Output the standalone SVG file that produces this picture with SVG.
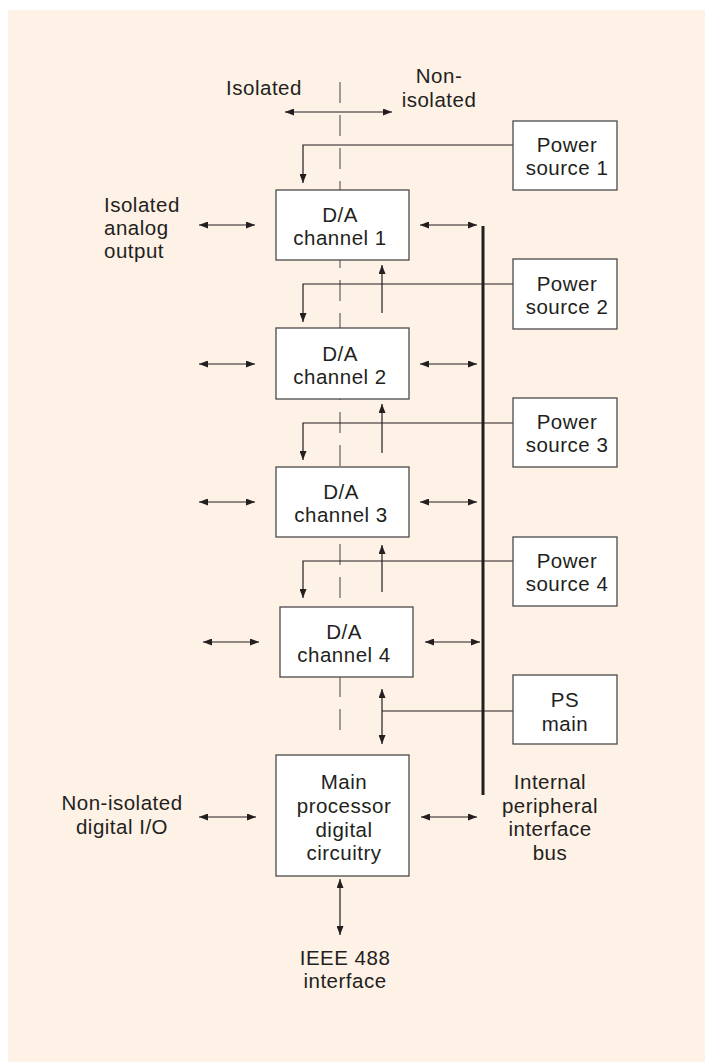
<svg xmlns="http://www.w3.org/2000/svg" width="705" height="1062" viewBox="0 0 705 1062">
<defs>
<marker id="ah" viewBox="0 0 9 7" refX="9" refY="3.5" markerWidth="9" markerHeight="7" markerUnits="userSpaceOnUse" orient="auto-start-reverse">
<path d="M0,0 L9,3.5 L0,7 z" fill="#231f20"/>
</marker>
</defs>
<style>
.bg{fill:#fef1e6}
.box{fill:#ffffff;stroke:#4a4a4a;stroke-width:1.3}
.t{font-family:"Liberation Sans",Arial,sans-serif;font-size:20.5px;letter-spacing:0.5px;fill:#231f20;text-anchor:middle}
.tl{text-anchor:start}
.ln{fill:none;stroke:#231f20;stroke-width:1.2}
.ar{fill:none;stroke:#231f20;stroke-width:1.2;marker-end:url(#ah)}
.da{fill:none;stroke:#231f20;stroke-width:1.2;marker-start:url(#ah);marker-end:url(#ah)}
.dash{fill:none;stroke:#6e6e6e;stroke-width:1.3;stroke-dasharray:21 12}
.bus{fill:none;stroke:#231f20;stroke-width:3}
</style>
<rect class="bg" x="8" y="10" width="697" height="1052"/>

<g id="boundary">
<line class="dash" x1="340" y1="82" x2="340" y2="737"/>
</g>

<g id="connectors">
<line class="da" x1="285" y1="112" x2="392" y2="112"/>
<line class="bus" x1="483" y1="226" x2="483" y2="795"/>
<line class="da" x1="199" y1="225" x2="255" y2="225"/>
<line class="da" x1="199" y1="364" x2="255" y2="364"/>
<line class="da" x1="199" y1="502" x2="255" y2="502"/>
<line class="da" x1="203" y1="642" x2="259" y2="642"/>
<line class="da" x1="199" y1="817" x2="256" y2="817"/>
<line class="da" x1="420" y1="225" x2="477" y2="225"/>
<line class="da" x1="420" y1="364" x2="477" y2="364"/>
<line class="da" x1="420" y1="502" x2="477" y2="502"/>
<line class="da" x1="425" y1="642" x2="480" y2="642"/>
<line class="da" x1="421" y1="817" x2="477" y2="817"/>
<polyline class="ar" points="513,145 303,145 303,183"/>
<polyline class="ar" points="513,284 303,284 303,322"/>
<polyline class="ar" points="513,423 303,423 303,460"/>
<polyline class="ar" points="513,561 303,561 303,598"/>
<line class="ar" x1="382" y1="313" x2="382" y2="265"/>
<line class="ar" x1="382" y1="453" x2="382" y2="404"/>
<line class="ar" x1="382" y1="592" x2="382" y2="545"/>
<line class="ln" x1="513" y1="711" x2="382" y2="711"/>
<line class="da" x1="382" y1="689" x2="382" y2="744"/>
<line class="da" x1="340" y1="879" x2="340" y2="935"/>
</g>

<g id="ps1"><rect class="box" x="513" y="121" width="104" height="69"/>
<text class="t" x="567" y="152">Power<tspan x="567" dy="23">source 1</tspan></text></g>
<g id="ps2"><rect class="box" x="513" y="259" width="104" height="70"/>
<text class="t" x="567" y="291">Power<tspan x="567" dy="23">source 2</tspan></text></g>
<g id="ps3"><rect class="box" x="513" y="398" width="104" height="69"/>
<text class="t" x="567" y="429">Power<tspan x="567" dy="23">source 3</tspan></text></g>
<g id="ps4"><rect class="box" x="513" y="537" width="104" height="69"/>
<text class="t" x="567" y="568">Power<tspan x="567" dy="23">source 4</tspan></text></g>
<g id="psmain"><rect class="box" x="513" y="675" width="104" height="69"/>
<text class="t" x="565" y="707">PS<tspan x="565" dy="24">main</tspan></text></g>

<g id="ch1"><rect class="box" x="276" y="190" width="133" height="70"/>
<text class="t" x="340" y="222">D/A<tspan x="340" dy="23">channel 1</tspan></text></g>
<g id="ch2"><rect class="box" x="276" y="328" width="133" height="71"/>
<text class="t" x="340" y="361">D/A<tspan x="340" dy="23">channel 2</tspan></text></g>
<g id="ch3"><rect class="box" x="276" y="467" width="133" height="70"/>
<text class="t" x="341" y="499">D/A<tspan x="341" dy="23">channel 3</tspan></text></g>
<g id="ch4"><rect class="box" x="280" y="607" width="133" height="70"/>
<text class="t" x="344" y="639">D/A<tspan x="344" dy="23">channel 4</tspan></text></g>
<g id="main"><rect class="box" x="276" y="755" width="133" height="121"/>
<text class="t" x="344" y="789">Main<tspan x="344" dy="24">processor</tspan><tspan x="344" dy="24">digital</tspan><tspan x="344" dy="23">circuitry</tspan></text></g>

<g id="labels">
<text class="t" x="264" y="95">Isolated</text>
<text class="t" x="439" y="83">Non-<tspan x="439" dy="24">isolated</tspan></text>
<text class="t tl" x="104" y="212">Isolated<tspan x="104" dy="23">analog</tspan><tspan x="104" dy="23">output</tspan></text>
<text class="t" x="122" y="810">Non-isolated<tspan x="122" dy="24">digital I/O</tspan></text>
<text class="t" x="550" y="789">Internal<tspan x="550" dy="24">peripheral</tspan><tspan x="550" dy="23">interface</tspan><tspan x="550" dy="24">bus</tspan></text>
<text class="t" x="345" y="965">IEEE 488<tspan x="345" dy="23">interface</tspan></text>
</g>
</svg>
